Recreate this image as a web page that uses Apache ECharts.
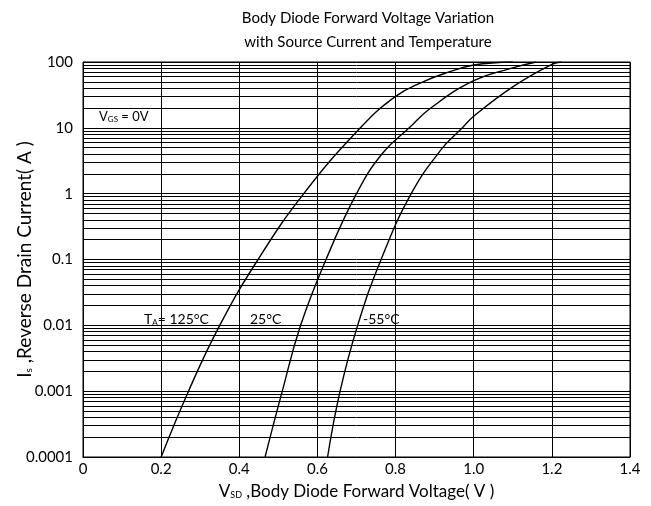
<!DOCTYPE html>
<html>
<head>
<meta charset="utf-8">
<script src="https://cdn.jsdelivr.net/npm/echarts@6/dist/echarts.min.js"></script>
<style>
  html, body { margin: 0; padding: 0; background: #fff; }
  #main { width: 651px; height: 506px; }
</style>
</head>
<body>
<div id="main"></div>
<script>
// 刻度
var xTicks = ['0', '0.2', '0.4', '0.6', '0.8', '1.0', '1.2', '1.4']
var yTicks = ['0.0001', '0.001', '0.01', '0.1', '1', '10', '100']
var minorSteps = [2, 3, 4, 5, 6, 7, 8, 9]
var temps = ['125°C', '25°C', '-55°C']

// 三条曲线 (V, A)
var v125 = [0.2, 0.27, 0.35, 0.448, 0.565, 0.71, 0.8, 0.87, 0.935, 1.0, 1.1]
var i125 = [0.0001, 0.001, 0.01, 0.1, 1, 10, 30, 50, 70, 90, 100]
var v25 = [0.466, 0.51, 0.557, 0.622, 0.70, 0.765, 0.835, 0.89, 1.0, 1.095, 1.16]
var i25 = [0.0001, 0.001, 0.01, 0.1, 1, 4.0, 10, 20, 52, 80, 100]
var v55 = [0.626, 0.658, 0.703, 0.763, 0.84, 0.917, 0.967, 1.0, 1.1, 1.2, 1.225]
var i55 = [0.0001, 0.001, 0.01, 0.1, 1, 4.7, 9.5, 15, 42, 92, 100]

var FONT = 'Lato'

function pairs(xs, ys) {
  return xs.map(function (x, k) { return [x, ys[k]] })
}

// 对数坐标的次网格线 2..9
var minorLines = []
for (var d = 0; d < yTicks.length - 1; d++) {
  minorSteps.forEach(function (m) {
    minorLines.push({ yAxis: m * Number(yTicks[d]) })
  })
}

function curve(name, data, extra) {
  var s = {
    name: name,
    type: 'line',
    data: data,
    smooth: 0.45,
    showSymbol: false,
    symbol: 'none',
    silent: true,
    animation: false,
    lineStyle: { color: '#000', width: 1.4 },
    z: 5
  }
  if (extra) s.markLine = extra
  return s
}

var myChart = echarts.init(document.getElementById('main'))
var option = {
  animation: false,
  title: {
    text: 'Body Diode Forward Voltage Variation\nwith Source Current and Temperature',
    left: 368,
    top: 6,
    padding: 0,
    textAlign: 'center',
    textStyle: { fontFamily: FONT, fontSize: 15, fontWeight: 'normal', color: '#000', lineHeight: 24 }
  },
  grid: {
    left: 83,
    right: 21,
    top: 62,
    bottom: 49,
    outerBoundsMode: 'none',
    containLabel: false,
    show: true,
    borderColor: '#000',
    borderWidth: 1
  },
  xAxis: {
    type: 'value',
    min: 0,
    max: 1.4,
    interval: 0.2,
    name: '{n|V}{s|SD}{n| ,Body Diode Forward Voltage( V )}',
    nameLocation: 'middle',
    nameGap: 26,
    nameMoveOverlap: false,
    nameTextStyle: {
      rich: {
        n: { fontFamily: FONT, fontSize: 17, color: '#000' },
        s: { fontFamily: FONT, fontSize: 9, color: '#000', verticalAlign: 'bottom', padding: [7, 0, 0, 0] }
      }
    },
    axisLine: { lineStyle: { color: '#000', width: 1 } },
    axisTick: { show: false },
    axisLabel: {
      color: '#000', fontFamily: FONT, fontSize: 15, margin: 5,
      formatter: function (v) { return xTicks[Math.round(v / 0.2)] }
    },
    splitLine: { show: true, lineStyle: { color: '#000', width: 1 } }
  },
  yAxis: {
    type: 'log',
    logBase: 10,
    min: 0.0001,
    max: 100,
    name: '{n|I}{s|s}{n| ,Reverse Drain Current( A )}',
    nameLocation: 'middle',
    nameGap: 49,
    nameMoveOverlap: false,
    nameTextStyle: {
      rich: {
        n: { fontFamily: FONT, fontSize: 19, color: '#000' },
        s: { fontFamily: FONT, fontSize: 10, color: '#000', verticalAlign: 'bottom', padding: [8, 0, 0, 0] }
      }
    },
    axisLine: { show: true, lineStyle: { color: '#000', width: 1 } },
    axisTick: { show: false },
    axisLabel: {
      color: '#000', fontFamily: FONT, fontSize: 15, margin: 10,
      formatter: function (v) {
        var k = Math.round(Math.log10(v)) + 4
        return yTicks[k] || ''
      }
    },
    splitLine: { show: true, lineStyle: { color: '#000', width: 1 } }
  },
  graphic: [
    {
      type: 'text', left: 99, top: 110,
      style: {
        text: '{n|V}{s|GS}{n| = 0V}',
        rich: {
          n: { fontFamily: FONT, fontSize: 13, fill: '#000' },
          s: { fontFamily: FONT, fontSize: 8, fill: '#000', verticalAlign: 'bottom', padding: [5, 0, 0, 0] }
        }
      }
    },
    {
      type: 'text', left: 144, top: 312,
      style: {
        text: '{n|T}{s|A}{n|= ' + temps[0] + '}',
        rich: {
          n: { fontFamily: FONT, fontSize: 14, fill: '#000' },
          s: { fontFamily: FONT, fontSize: 8, fill: '#000', verticalAlign: 'bottom', padding: [5, 0, 0, 0] }
        }
      }
    },
    {
      type: 'text', left: 250, top: 312,
      style: { text: temps[1], fontFamily: FONT, fontSize: 14, fill: '#000' }
    },
    {
      type: 'text', left: 363, top: 312,
      style: { text: temps[2], fontFamily: FONT, fontSize: 14, fill: '#000' }
    }
  ],
  series: [
    curve(temps[0], pairs(v125, i125), {
      silent: true,
      precision: 8,
      symbol: ['none', 'none'],
      label: { show: false },
      animation: false,
      lineStyle: { color: '#000', width: 1, type: 'solid' },
      emphasis: { disabled: true },
      data: minorLines
    }),
    curve(temps[1], pairs(v25, i25)),
    curve(temps[2], pairs(v55, i55))
  ]
}
myChart.setOption(option)
window.addEventListener('resize', function () {
  myChart.resize()
})
</script>
</body>
</html>
